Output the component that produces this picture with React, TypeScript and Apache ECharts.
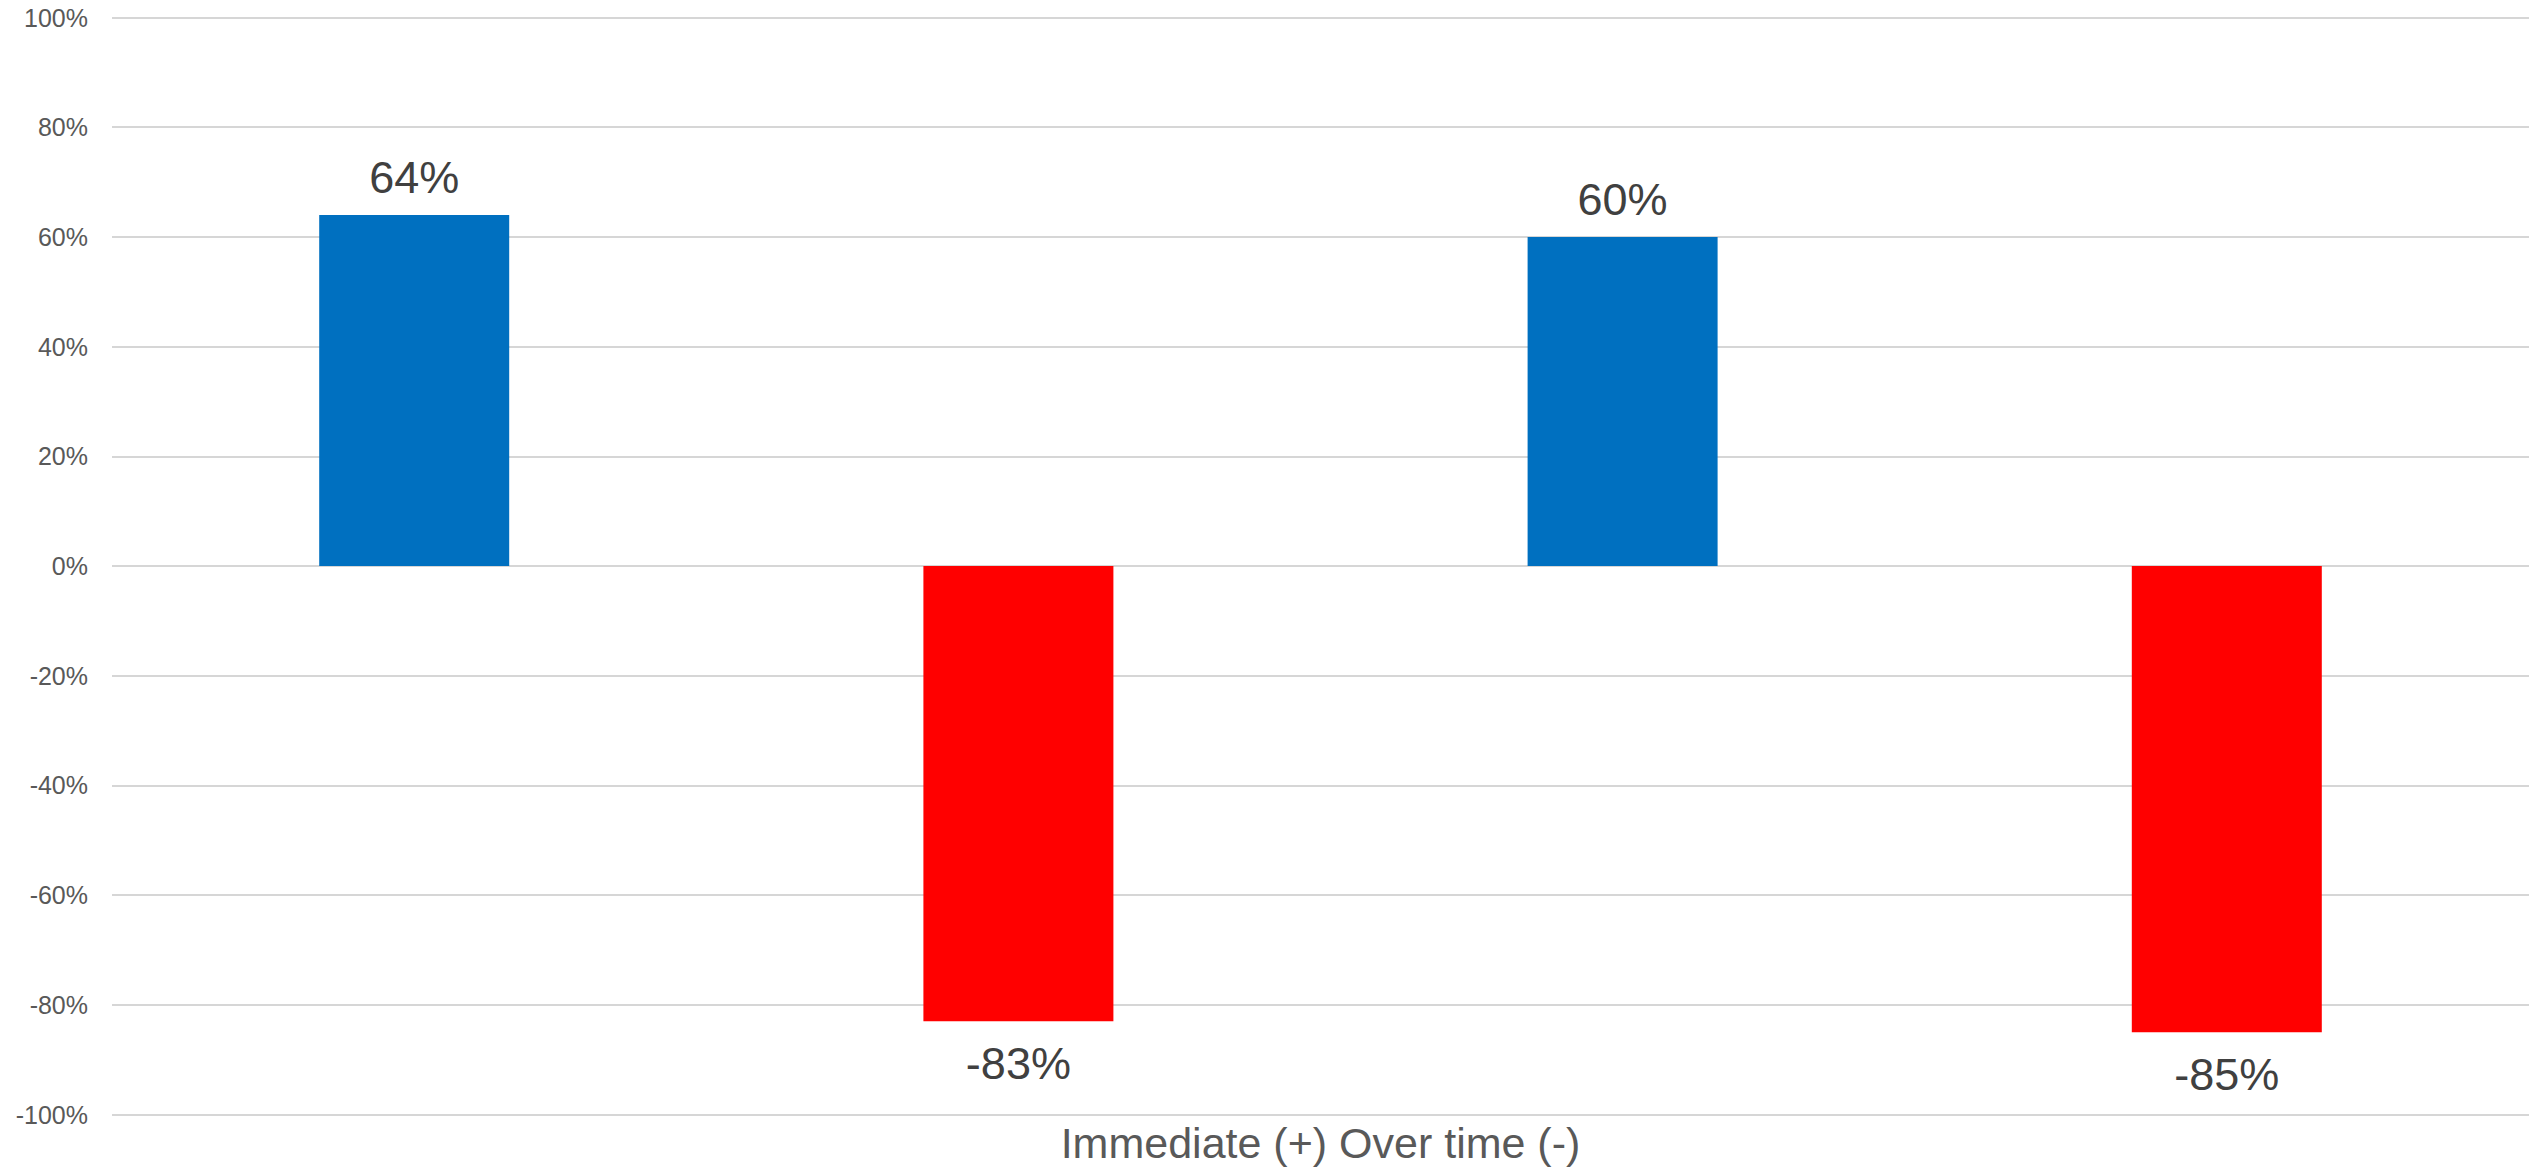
import React, { useEffect, useRef } from "react";
import * as echarts from "echarts";

const categories = ["Immediate (+) Over time (-)"];
const seriesNames = ["Immediate A", "Over time A", "Immediate B", "Over time B"];
const seriesValues = [64, -83, 60, -85];
const seriesColors = ["#0070C0", "#FF0000", "#0070C0", "#FF0000"];
const yTicks = { min: -100, max: 100, interval: 20 };

const FONT = "'Liberation Sans', Arial, Helvetica, sans-serif";

export default function App() {
  const ref = useRef<HTMLDivElement>(null);
  useEffect(() => {
    document.body.style.margin = "0";
    const chart = echarts.init(ref.current!, null, { renderer: "svg" });
    const series = seriesValues.map((v, i) => ({
      name: seriesNames[i],
      type: "bar",
      data: [v],
      barWidth: 190,
      barGap: "218%",
      itemStyle: { color: seriesColors[i] },
      label: {
        show: true,
        position: v >= 0 ? "top" : "bottom",
        distance: v >= 0 ? 15 : 20,
        formatter: "{c}%",
        fontSize: 45,
        color: "#404040",
        fontFamily: FONT,
      },
    }));
    chart.setOption({
      animation: false,
      backgroundColor: "#ffffff",
      textStyle: { fontFamily: FONT },
      grid: {
        left: 112,
        right: 5,
        top: 17.5,
        bottom: 53.5,
        containLabel: false,
        outerBoundsMode: "none",
      },
      xAxis: {
        type: "category",
        data: categories,
        axisLine: { show: false },
        axisTick: { show: false },
        splitLine: { show: false },
        axisLabel: {
          fontSize: 43,
          lineHeight: 46,
          color: "#595959",
          fontFamily: FONT,
          margin: 5,
        },
      },
      yAxis: {
        type: "value",
        min: yTicks.min,
        max: yTicks.max,
        interval: yTicks.interval,
        axisLine: { show: false },
        axisTick: { show: false },
        splitLine: { lineStyle: { color: "#d6d6d6", width: 1.8 } },
        axisLabel: {
          formatter: "{value}%",
          fontSize: 25,
          color: "#595959",
          fontFamily: FONT,
          margin: 24,
        },
      },
      series,
    });
    return () => chart.dispose();
  }, []);
  return <div ref={ref} style={{ width: 2534, height: 1168 }} />;
}
